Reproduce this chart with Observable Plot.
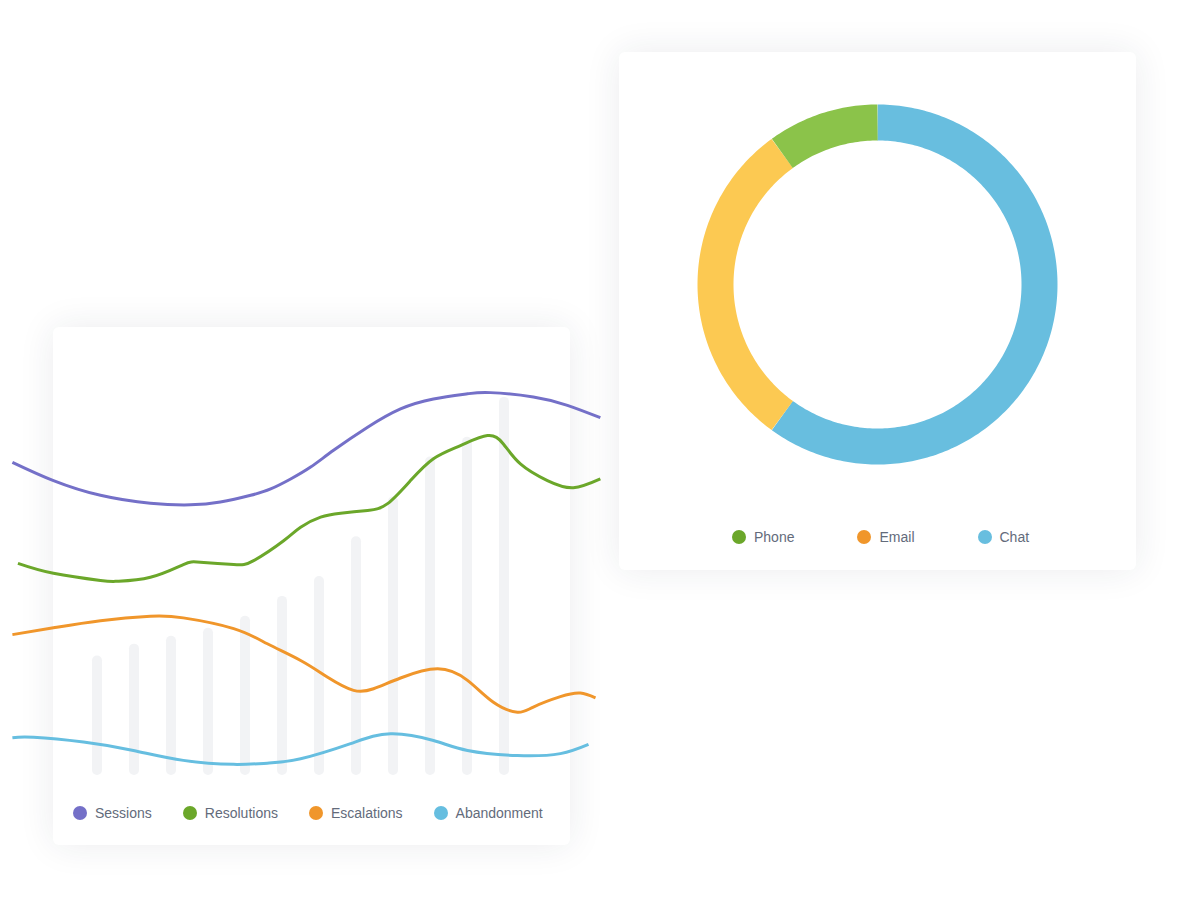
<!DOCTYPE html>
<html>
<head>
<meta charset="utf-8">
<script src="https://cdn.jsdelivr.net/npm/d3@7"></script>
<script src="https://cdn.jsdelivr.net/npm/@observablehq/plot@0.6"></script>
<style>
  html, body { margin: 0; padding: 0; background: #ffffff; }
  body { width: 1189px; height: 898px; position: relative; overflow: hidden; font-family: "Liberation Sans", Arial, sans-serif; }
  .card { position: absolute; background: #fff; border-radius: 6px; box-shadow: 0 0 36px rgba(30, 40, 70, 0.09); }
  .legend { position: absolute; display: flex; align-items: center; font-size: 14px; color: #636b7b; white-space: nowrap; }
  .legend .item { display: flex; align-items: center; }
  .legend .dot { width: 14px; height: 14px; border-radius: 50%; margin-right: 8px; flex: none; }
  #lines, #donut { position: absolute; }
  #lines svg, #donut svg { overflow: visible; }
</style>
</head>
<body>
<div class="card" style="left:53px; top:327px; width:517px; height:518px;"></div>
<div class="card" style="left:619px; top:52px; width:517px; height:518px;"></div>
<div id="lines" style="left:0px; top:327px;"></div>
<div id="donut" style="left:619px; top:52px;"></div>
<div class="legend" id="legendL" style="left:73px; top:803px; height:20px; gap:31px;"></div>
<div class="legend" id="legendR" style="left:732px; top:527px; height:20px; gap:63px;"></div>
<script>
// ---------- Data ----------
// Background columns (12 periods)
const barIndex = [0, 1, 2, 3, 4, 5, 6, 7, 8, 9, 10, 11];
const barValues = [30, 33, 35, 37, 40, 45, 50, 60, 70, 80, 85, 95];

// Line series: positions along the period axis (u) and values (v)
const seriesNames = ["Sessions", "Resolutions", "Escalations", "Abandonment"];
const seriesColors = ["#7470c8", "#6ba72a", "#f0962b", "#66bee0"];

const sessionsU = [-2.3, -1.19, 0.08, 1.43, 2.51, 3.32, 4.14, 4.68, 5.22, 5.76, 6.38, 7.3, 8.19, 9.08, 10.0, 10.62, 11.78, 12.7, 13.59];
const sessionsV = [78.7, 74.1, 70.4, 68.4, 68.0, 68.7, 70.4, 72.0, 74.5, 77.5, 81.7, 87.5, 92.1, 94.6, 95.9, 96.2, 95.1, 93.0, 89.9];

const resolutionsU = [-2.15, -1.19, 0.08, 0.54, 1.43, 2.32, 2.78, 3.68, 4.22, 5.03, 5.49, 6.03, 6.57, 7.3, 7.84, 8.46, 9.08, 9.81, 10.54, 10.97, 11.43, 12.16, 12.86, 13.59];
const resolutionsV = [53.3, 50.8, 49.0, 48.8, 49.8, 53.0, 53.6, 53.0, 54.0, 59.0, 62.4, 64.9, 65.9, 66.6, 68.3, 74.1, 79.6, 82.9, 85.4, 83.3, 78.3, 74.1, 72.3, 74.5];

const escalationsU = [-2.3, -1.19, 0.08, 1.43, 2.32, 3.68, 4.59, 5.49, 6.22, 6.92, 7.46, 8.19, 9.19, 10.0, 10.7, 11.35, 11.78, 12.51, 13.05, 13.46];
const escalationsV = [35.4, 37.1, 38.9, 40.0, 39.6, 36.9, 33.1, 28.9, 24.7, 21.4, 21.8, 24.5, 26.8, 23.9, 18.4, 15.9, 17.2, 19.8, 20.7, 19.5];

const abandonmentU = [-2.3, -1.73, -0.38, 0.97, 2.32, 3.68, 4.59, 5.49, 6.84, 7.92, 9.08, 10.0, 11.35, 12.51, 13.27];
const abandonmentV = [9.5, 9.6, 8.4, 6.3, 3.8, 2.8, 3.1, 4.2, 8.0, 10.5, 8.8, 6.3, 5.0, 5.5, 7.8];

// Channel mix (donut)
const channels = ["Phone", "Email", "Chat"];
const channelShares = [10, 30, 60];
const channelSliceColors = ["#8bc34a", "#fcc952", "#68bedf"];
const channelLegendColors = ["#6ba72a", "#f0962b", "#68bedf"];
const sliceOrder = ["Chat", "Email", "Phone"]; // clockwise from 12 o'clock

// ---------- Line chart ----------
const bars = barIndex.map((i, k) => ({u: i, v: barValues[k]}));
const lineRows = [];
[[sessionsU, sessionsV], [resolutionsU, resolutionsV], [escalationsU, escalationsV], [abandonmentU, abandonmentV]]
  .forEach(([us, vs], s) => us.forEach((u, k) => lineRows.push({series: seriesNames[s], u, v: vs[k]})));

const linePlot = Plot.plot({
  width: 620,
  height: 518,
  margin: 0,
  x: {domain: [0, 11], range: [97, 504], axis: null},
  y: {domain: [0, 100], range: [448, 50], axis: null},
  color: {domain: seriesNames, range: seriesColors},
  marks: [
    Plot.rectY(bars, {x1: d => d.u - 0.5, x2: d => d.u + 0.5, y: "v", fill: "#f2f3f5", insetLeft: 13.5, insetRight: 13.5, rx: 5}),
    Plot.line(lineRows, {x: "u", y: "v", z: "series", stroke: "series", strokeWidth: 3, curve: "natural", strokeLinecap: "butt"})
  ]
});
document.getElementById("lines").appendChild(linePlot);

// ---------- Donut ----------
const shareOf = Object.fromEntries(channels.map((c, i) => [c, channelShares[i]]));
const total = d3.sum(channelShares);
const arcRows = [];
let acc = 0;
for (const name of sliceOrder) {
  const a0 = acc / total * 2 * Math.PI;
  acc += shareOf[name];
  const a1 = acc / total * 2 * Math.PI;
  const n = Math.max(2, Math.ceil((a1 - a0) / (Math.PI / 180)));
  for (let k = 0; k <= n; k++) {
    const a = a0 + (a1 - a0) * k / n;
    arcRows.push({slice: name, x: Math.sin(a), y: Math.cos(a)});
  }
}
const cx = 258, cy = 232, rMid = 162;
const donutPlot = Plot.plot({
  width: 517,
  height: 518,
  margin: 0,
  x: {domain: [-1, 1], range: [cx - rMid, cx + rMid], axis: null},
  y: {domain: [-1, 1], range: [cy + rMid, cy - rMid], axis: null},
  color: {domain: channels, range: channelSliceColors},
  marks: [
    Plot.line(arcRows, {x: "x", y: "y", z: "slice", stroke: "slice", strokeWidth: 36, strokeLinecap: "butt", strokeLinejoin: "round"})
  ]
});
document.getElementById("donut").appendChild(donutPlot);

// ---------- Legends ----------
function legend(el, names, colors) {
  names.forEach((n, i) => {
    const item = document.createElement("div");
    item.className = "item";
    const dot = document.createElement("span");
    dot.className = "dot";
    dot.style.background = colors[i];
    const label = document.createElement("span");
    label.textContent = n;
    item.appendChild(dot);
    item.appendChild(label);
    el.appendChild(item);
  });
}
legend(document.getElementById("legendL"), seriesNames, seriesColors);
legend(document.getElementById("legendR"), channels, channelLegendColors);
</script>
</body>
</html>
